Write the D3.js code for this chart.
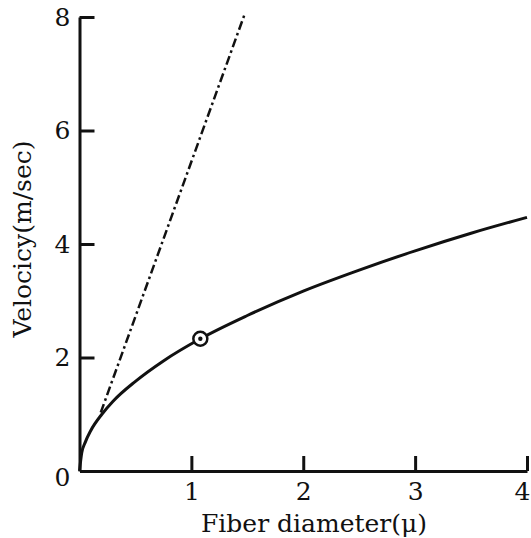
<!DOCTYPE html>
<html>
<head>
<meta charset="utf-8">
<script src="https://cdn.jsdelivr.net/npm/d3@7"></script>
<style>
  body { margin: 0; background: #fff; }
  text { font-family: "DejaVu Serif", serif; fill: #111; }
</style>
</head>
<body>
<div id="chart"></div>
<script>
/* CONSTANTS AND GLOBALS */
const width = 531,
  height = 538,
  margin = { top: 17, bottom: 67, left: 79.5, right: 4 };

// solid curve
const diameters = [0, 0.02, 0.05, 0.1, 0.2, 0.3, 0.5, 0.75, 1.08, 1.5, 2, 2.5, 3, 3.5, 4];
const velocities = [0, 0.32, 0.5, 0.71, 1.0, 1.23, 1.58, 1.94, 2.33, 2.74, 3.17, 3.54, 3.88, 4.19, 4.47];

// dash-dot straight line
const lineDiameters = [0.19, 1.48];
const lineVelocities = [1.03, 8.07];

// marked point
const markDiameter = 1.08;
const markVelocity = 2.33;

const xTicks = [1, 2, 3, 4];
const yTicks = [2, 4, 6, 8];

const curveData = diameters.map((d, i) => ({ d: d, v: velocities[i] }));
const lineData = lineDiameters.map((d, i) => ({ d: d, v: lineVelocities[i] }));

/* SCALES */
const xScale = d3.scaleLinear()
  .domain([0, 4])
  .range([margin.left, width - margin.right]);
const yScale = d3.scaleLinear()
  .domain([0, 8])
  .range([height - margin.bottom, margin.top]);

const svg = d3.select("#chart")
  .append("svg")
  .attr("width", width)
  .attr("height", height);

/* AXES */
const xAxis = d3.axisBottom(xScale)
  .tickValues(xTicks)
  .tickSizeInner(-15)
  .tickSizeOuter(0)
  .tickPadding(11)
  .tickFormat(d3.format("d"));
const yAxis = d3.axisLeft(yScale)
  .tickValues(yTicks)
  .tickSizeInner(-15)
  .tickSizeOuter(0)
  .tickPadding(9)
  .tickFormat(d3.format("d"));

const xAxisGroup = svg.append("g")
  .attr("transform", `translate(0, ${yScale(0)})`)
  .call(xAxis);
const yAxisGroup = svg.append("g")
  .attr("transform", `translate(${xScale(0)}, 0)`)
  .call(yAxis);

[xAxisGroup, yAxisGroup].forEach(g => {
  g.attr("font-family", null).attr("font-size", null);
  g.select(".domain").attr("stroke", "#111").attr("stroke-width", 3);
  g.selectAll(".tick line").attr("stroke", "#111").attr("stroke-width", 3);
  g.selectAll(".tick text").attr("font-size", 25);
});

// last x label sits at the page edge, keep it inside
xAxisGroup.selectAll(".tick text")
  .filter(d => d === 4)
  .attr("text-anchor", "end")
  .attr("x", 3);

// shared zero at the origin
svg.append("text")
  .attr("x", xScale(0) - 9)
  .attr("y", yScale(0) + 7)
  .attr("dy", "0.32em")
  .attr("text-anchor", "end")
  .attr("font-size", 25)
  .text("0");

/* LABELS */
svg.append("text")
  .attr("x", 314)
  .attr("y", 532)
  .attr("text-anchor", "middle")
  .attr("font-size", 25)
  .text("Fiber diameter(μ)");

svg.append("text")
  .attr("transform", `translate(31, 239) rotate(-90)`)
  .attr("text-anchor", "middle")
  .attr("font-size", 25)
  .text("Velocicy(m/sec)");

/* LINES */
const lineGen = d3.line()
  .x(d => xScale(d.d))
  .y(d => yScale(d.v));

svg.append("path")
  .datum(lineData)
  .attr("fill", "none")
  .attr("stroke", "#111")
  .attr("stroke-width", 2.5)
  .attr("stroke-dasharray", "9,3.5,2.5,3.5")
  .attr("d", lineGen);

svg.append("path")
  .datum(curveData)
  .attr("fill", "none")
  .attr("stroke", "#111")
  .attr("stroke-width", 3)
  .attr("d", lineGen.curve(d3.curveMonotoneX));

/* MARK */
svg.append("circle")
  .attr("cx", xScale(markDiameter))
  .attr("cy", yScale(markVelocity))
  .attr("r", 7)
  .attr("fill", "#fff")
  .attr("stroke", "#111")
  .attr("stroke-width", 2.5);
svg.append("circle")
  .attr("cx", xScale(markDiameter))
  .attr("cy", yScale(markVelocity))
  .attr("r", 2.2)
  .attr("fill", "#111");
</script>
</body>
</html>
